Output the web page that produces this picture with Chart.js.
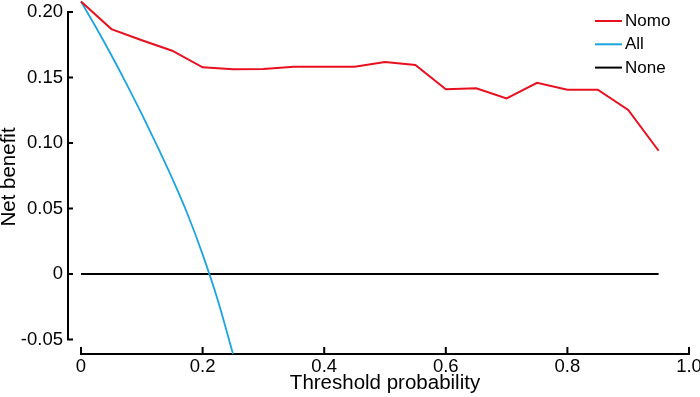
<!DOCTYPE html>
<html>
<head>
<meta charset="utf-8">
<script src="https://cdn.jsdelivr.net/npm/chart.js@4.4.6/dist/chart.umd.min.js"></script>
<style>
  html, body { margin: 0; padding: 0; background: #fff; }
  #wrap { width: 700px; height: 397px; position: relative; }
</style>
</head>
<body>
<div id="wrap"><canvas id="dca"></canvas></div>
<script>
// Decision curve: net benefit against threshold probability
const nomoThreshold = [0, 0.05, 0.1, 0.15, 0.2, 0.25, 0.3, 0.35, 0.4, 0.45, 0.5, 0.55, 0.6, 0.65, 0.7, 0.75, 0.8, 0.85, 0.9, 0.95]
const nomoBenefit = [0.208, 0.187, 0.1785, 0.1705, 0.1578, 0.1563, 0.1565, 0.1583, 0.1583, 0.1583, 0.1618, 0.1595, 0.141, 0.1418, 0.1341, 0.146, 0.1407, 0.1407, 0.1252, 0.0941]

const allThreshold = [0, 0.025, 0.05, 0.075, 0.1, 0.125, 0.15, 0.175, 0.2, 0.225, 0.25]
const allBenefit = [0.208, 0.188, 0.167, 0.145, 0.122, 0.098, 0.073, 0.046, 0.015, -0.02, -0.061]

const noneThreshold = [0, 0.95]
const noneBenefit = [0, 0]

const xTickValues = [0, 0.2, 0.4, 0.6, 0.8, 1.0]
const xTickLabels = ["0", "0.2", "0.4", "0.6", "0.8", "1.0"]
const yTickValues = [-0.05, 0, 0.05, 0.1, 0.15, 0.2]
const yTickLabels = ["-0.05", "0", "0.05", "0.10", "0.15", "0.20"]
const xTitle = "Threshold probability"

const font = "'Liberation Sans', Arial, Helvetica, sans-serif"
const pairs = (xs, ys) => xs.map((x, i) => ({ x, y: ys[i] }))

// axis lines drawn detached, MATLAB style, ticks pointing inward
const axesPlugin = {
  id: "axes",
  beforeDatasetsDraw(chart) {
    const { ctx, scales: { x, y }, chartArea } = chart
    ctx.save()
    ctx.strokeStyle = "#000"
    ctx.lineWidth = 2
    ctx.lineCap = "butt"
    const ax = chartArea.left
    const y0 = y.getPixelForValue(yTickValues[yTickValues.length - 1])
    const y1 = y.getPixelForValue(yTickValues[0])
    ctx.beginPath()
    ctx.moveTo(ax, y0 - 1)
    ctx.lineTo(ax, y1 + 1)
    yTickValues.forEach((v) => {
      const py = y.getPixelForValue(v)
      ctx.moveTo(ax, py)
      ctx.lineTo(ax + 5, py)
    })
    const by = chartArea.bottom
    const x0 = x.getPixelForValue(xTickValues[0])
    const x1 = x.getPixelForValue(xTickValues[xTickValues.length - 1])
    ctx.moveTo(x0 - 1, by)
    ctx.lineTo(x1 + 1, by)
    xTickValues.forEach((v) => {
      const px = x.getPixelForValue(v)
      ctx.moveTo(px, by)
      ctx.lineTo(px, by - 7)
    })
    ctx.stroke()

    // x title centred under the 0..1 range, not under the whole scale box
    ctx.fillStyle = "#000"
    ctx.font = "20.5px " + font
    ctx.textAlign = "center"
    ctx.textBaseline = "middle"
    ctx.fillText(xTitle, x.getPixelForValue(0.5), 383)
    ctx.restore()
  },
  afterDraw(chart) {
    const { ctx } = chart
    ctx.save()
    ctx.font = "17px " + font
    ctx.textBaseline = "middle"
    ctx.textAlign = "left"
    chart.data.datasets.forEach((ds, i) => {
      const ly = 21 + i * 23.3
      ctx.strokeStyle = ds.borderColor
      ctx.lineWidth = 2
      ctx.beginPath()
      ctx.moveTo(595, ly)
      ctx.lineTo(622, ly)
      ctx.stroke()
      ctx.fillStyle = "#000"
      ctx.fillText(ds.label, 625, ly + 0.5)
    })
    ctx.restore()
  }
}

new Chart(document.getElementById("dca"), {
  type: "scatter",
  data: {
    datasets: [
      { label: "Nomo", data: pairs(nomoThreshold, nomoBenefit), borderColor: "#e8101f", borderWidth: 2 },
      { label: "All", data: pairs(allThreshold, allBenefit), borderColor: "#1aa5e0", borderWidth: 1.8, cubicInterpolationMode: "monotone" },
      { label: "None", data: pairs(noneThreshold, noneBenefit), borderColor: "#000000", borderWidth: 2 }
    ].map((d) => ({ ...d, showLine: true, pointRadius: 0, pointHoverRadius: 0, backgroundColor: d.borderColor }))
  },
  options: {
    responsive: true,
    maintainAspectRatio: false,
    animation: false,
    events: [],
    layout: { padding: { left: 0, right: 11, top: 0, bottom: 0 } },
    plugins: { legend: { display: false }, tooltip: { enabled: false } },
    scales: {
      x: {
        type: "linear",
        min: -0.0214,
        max: 1.0,
        grid: { display: false, drawTicks: false },
        border: { display: false },
        afterBuildTicks: (scale) => { scale.ticks = xTickValues.map((value) => ({ value })) },
        afterFit: (scale) => { scale.height = 43; scale.paddingLeft = 0; scale.paddingRight = 0 },
        ticks: {
          autoSkip: false,
          maxRotation: 0,
          padding: 2,
          color: "#000",
          font: { family: font, size: 18.5 },
          callback: (value, index) => xTickLabels[index]
        }
      },
      y: {
        type: "linear",
        min: -0.0611,
        max: 0.2092,
        grid: { display: false, drawTicks: false },
        border: { display: false },
        afterBuildTicks: (scale) => { scale.ticks = yTickValues.map((value) => ({ value })) },
        afterFit: (scale) => { scale.width = 68; scale.paddingTop = 0; scale.paddingBottom = 0 },
        ticks: {
          autoSkip: false,
          padding: 5,
          color: "#000",
          font: { family: font, size: 18.5 },
          callback: (value, index) => yTickLabels[index]
        },
        title: {
          display: true,
          text: "Net benefit",
          color: "#000",
          font: { family: font, size: 20.5, lineHeight: 1 },
          padding: { top: -1, bottom: 0 }
        }
      }
    }
  },
  plugins: [axesPlugin]
})
</script>
</body>
</html>
